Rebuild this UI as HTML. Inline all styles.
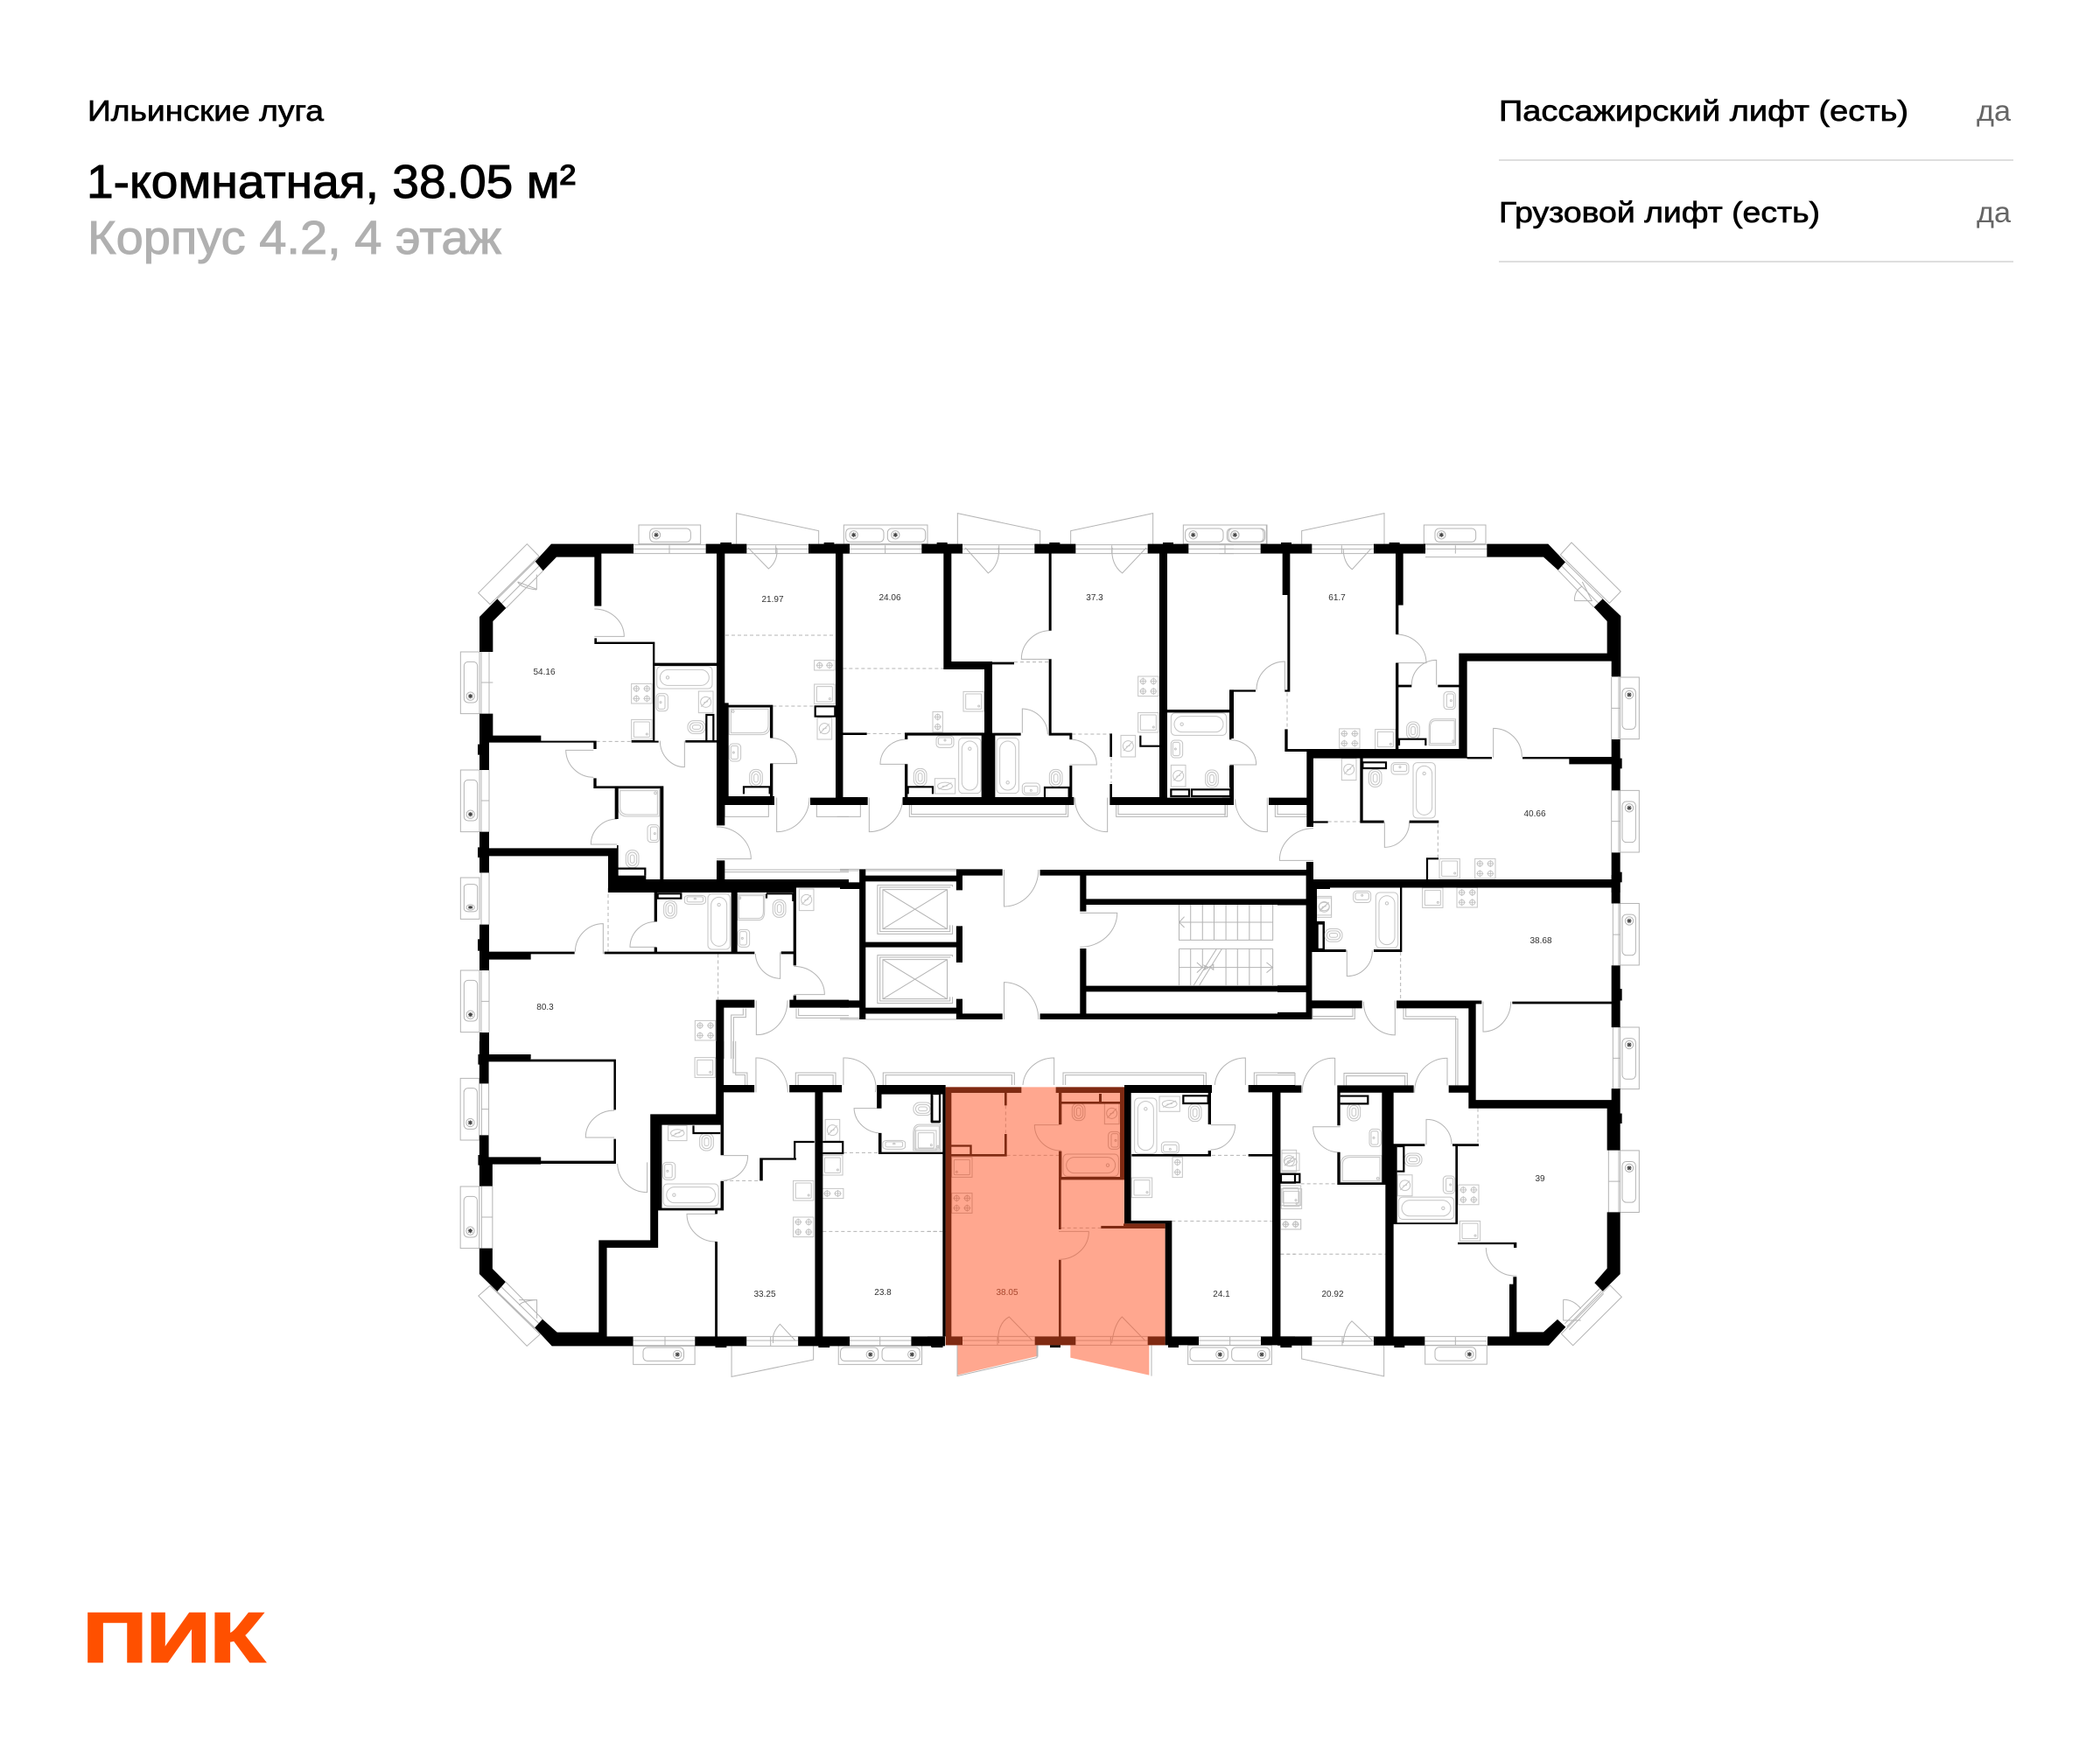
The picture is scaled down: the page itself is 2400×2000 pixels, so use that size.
<!DOCTYPE html>
<html lang="ru"><head><meta charset="utf-8"><title>План этажа</title>
<style>
html,body{margin:0;padding:0;background:#fff}
svg{display:block}
svg *{vector-effect:non-scaling-stroke}
.k{fill:#000;stroke:none}
.o{fill:none;stroke:#000;stroke-width:2.2}
.t{fill:none;stroke:#b4b4b4;stroke-width:1}
.d{fill:none;stroke:#b4b4b4;stroke-width:1;stroke-dasharray:4 3}
.i{fill:none;stroke:#c4c4c4;stroke-width:1}
.h{fill:none;stroke:#000;stroke-width:.8}
.f{font-family:"Liberation Sans",sans-serif}
.l{font-family:"Liberation Sans",sans-serif;font-size:10px;fill:#333;text-anchor:middle}
</style></head><body>
<svg xmlns="http://www.w3.org/2000/svg" width="2400" height="2000" viewBox="0 0 2400 2000">
<defs>
<g id="pl"><rect x="-106" y="-32" width="212" height="65"/><rect x="-68" y="-20" width="140" height="46" rx="14"/><circle cx="-46" cy="2" r="14"/><path d="M-54,2H-38M-46,-6V10M-52,-4L-40,8M-52,8L-40,-4" stroke="#444"/></g>
<g id="pl2"><rect x="-143" y="-32" width="287" height="65"/><rect x="-136" y="-20" width="130" height="46" rx="14"/><rect x="7" y="-20" width="130" height="46" rx="14"/><circle cx="-109" cy="2" r="14"/><circle cx="34" cy="2" r="14"/><path d="M-117,2H-101M-109,-6V10M-115,-4L-103,8M-115,8L-103,-4M26,2H42M34,-6V10M28,-4L40,8M28,8L40,-4" stroke="#444"/></g>
<g id="bt"><rect x="-95" y="-38" width="190" height="76" rx="14"/><rect x="-84" y="-27" width="168" height="54" rx="27"/><circle cx="-58" cy="0" r="5"/></g>
<g id="bc"><path d="M-70,-47H70V15Q70,47 40,47H-70Z"/><path d="M-64,-41H64V15Q64,41 36,41H-64Z"/><circle cx="-57" cy="-33" r="4"/></g>
<g id="sk"><rect x="-20" y="-30" width="40" height="60" rx="12"/><rect x="-14" y="-23" width="24" height="46" rx="6"/><circle cx="-5" cy="0" r="3"/></g>
<g id="wc"><rect x="-22" y="-30" width="44" height="60" rx="20"/><rect x="-15" y="-23" width="30" height="46" rx="15"/><rect x="-7" y="-14" width="14" height="28" rx="7"/></g>
<g id="vt"><rect x="-25" y="-37" width="50" height="74"/><circle cx="0" cy="0" r="18"/><path d="M-16,16L-4,4L4,-4L16,-16M-7,2L7,-2"/></g>
<g id="s4"><rect x="-35" y="-34" width="70" height="68"/><circle cx="-18" cy="-17" r="9"/><circle cx="18" cy="-17" r="9"/><circle cx="-18" cy="17" r="9"/><circle cx="18" cy="17" r="9"/><path d="M-30,-17H-6M6,-17H30M-30,17H-6M6,17H30M-18,-29V-5M18,-29V-5M-18,5V29M18,5V29"/></g>
<g id="s2"><rect x="-17" y="-35" width="34" height="70"/><circle cx="0" cy="-17" r="9"/><circle cx="0" cy="17" r="9"/><path d="M-12,-17H12M-12,17H12M0,-29V-5M0,5V29"/></g>
<g id="ks"><rect x="-35" y="-34" width="70" height="68"/><rect x="-27" y="-26" width="54" height="52" rx="3"/><circle cx="18" cy="16" r="3"/></g>
</defs>
<rect width="2400" height="2000" fill="#fff"/>

<!-- header -->
<text class="f" x="100" y="138" font-size="33" textLength="270" lengthAdjust="spacingAndGlyphs" fill="#000" stroke="#000" stroke-width=".7">Ильинские луга</text>
<text class="f" x="99" y="226" font-size="54" textLength="559" lengthAdjust="spacingAndGlyphs" fill="#000" stroke="#000" stroke-width="1">1-комнатная, 38.05 м²</text>
<text class="f" x="100" y="290" font-size="54" textLength="473" lengthAdjust="spacingAndGlyphs" fill="#b0b0b0" stroke="#b0b0b0" stroke-width="1">Корпус 4.2, 4 этаж</text>
<text class="f" x="1713" y="138" font-size="33" textLength="468" lengthAdjust="spacingAndGlyphs" fill="#000" stroke="#000" stroke-width=".7">Пассажирский лифт (есть)</text>
<text class="f" x="2259" y="138" font-size="33" textLength="39" lengthAdjust="spacingAndGlyphs" fill="#666">да</text>
<rect x="1713" y="182" width="588" height="2" fill="#dedede"/>
<text class="f" x="1713" y="254" font-size="33" textLength="367" lengthAdjust="spacingAndGlyphs" fill="#000" stroke="#000" stroke-width=".7">Грузовой лифт (есть)</text>
<text class="f" x="2259" y="254" font-size="33" textLength="39" lengthAdjust="spacingAndGlyphs" fill="#666">да</text>
<rect x="1713" y="298" width="588" height="2" fill="#dedede"/>
<text class="f" x="95" y="1899" font-size="80" font-weight="700" textLength="207" lengthAdjust="spacingAndGlyphs" fill="#ff5000" stroke="#ff5000" stroke-width="2.5">ПИК</text>

<!-- Z1 -->
<g transform="translate(520 570) scale(.33333)">
<g class="t">
<path d="M80,323L247,155L288,197L120,362ZM275,215L145,343M302,247L175,375M288,231L160,359"/>
<path d="M215,285L280,310V260M215,285Q225,305 280,312"/>
<path d="M612,158H860M612,172H860M612,188H860M735,160V188"/>
<use href="#pl" transform="translate(736 122)"/>
<path d="M965,155V50L1247,110V155"/>
<path d="M1000,158H1212M1000,172H1212M1000,188H1212M1100,160V188"/>
<path d="M1005,168L1075,240A75,75 0 0 0 1103,168"/>
<path d="M90,525V737M117,525V737M90,630H130"/><use href="#pl" transform="translate(51 631) rotate(-90)"/>
<path d="M90,930V1142M117,930V1142M90,1035H117"/><use href="#pl" transform="translate(51 1036) rotate(-90)"/>
<path d="M90,1282V1350M117,1282V1350"/>
<path d="M478,378A102,95 0 0 1 580,472H478"/>
<path d="M475,862H380A95,95 0 0 0 475,955"/>
<path d="M787,830V920A85,90 0 0 1 703,830"/>
<path d="M1082,820A90,88 0 0 1 1172,908H1082"/>
<path d="M1103,1025V1142A112,117 0 0 0 1215,1025"/>
<path d="M555,1098A90,87 0 0 0 466,1185H555"/>
<path d="M897,1125A118,110 0 0 1 1015,1235H897"/>
<path d="M925,1050V1090H1075V1050M1240,1050V1090H1350M925,1272H1350M925,1280H1350M525,1335V1350"/>
</g>
<g class="i">
<use href="#bt" transform="translate(787 613)"/><use href="#sk" transform="translate(710 698)"/><use href="#vt" transform="translate(860 697)"/><use href="#wc" transform="translate(828 783) rotate(90)"/>
<use href="#s4" transform="translate(640 668)"/><use href="#ks" transform="translate(640 791)"/>
<use href="#bc" transform="translate(1010 762)"/><use href="#sk" transform="translate(960 870)"/><use href="#wc" transform="translate(1032 958)"/>
<use href="#s2" transform="translate(1267 571) rotate(90)"/><use href="#ks" transform="translate(1267 670)"/><use href="#vt" transform="translate(1267 788)"/>
<use href="#bc" transform="translate(630 1042) scale(-1 1)"/><use href="#sk" transform="translate(680 1148) scale(-1 1)"/><use href="#wc" transform="translate(608 1235)"/>
</g>
<path class="d" d="M927,468H1305M1090,711H1232M485,832H605M1330,582H1350"/>
<path class="k" d="M330,155H612V188H502V200H348L302,247L275,215Z M145,343L175,375L130,420V525H84V405Z
M84,737H130V812H295V830H485V836H117V930H84V878H78V842H84Z
M478,190H502V368H478Z M478,478H486V491H685V830H698V836H605V828H678V498H478Z
M685,563H897V573H685Z M790,828H897V836H790Z
M860,155H1000V188H925V700H938V1020H1095V1050H925V1120H897V188H860Z M910,150H948V156H910Z
M1212,155H1350V188H1330V1025H1350V1050H1218V1025H1305V188H1212Z M1265,150H1300V156H1265Z
M930,707H1090V820H1080V715H930Z M1080,908H1090V1025H1080Z
M475,836H485V858H475Z M475,958H485V985H715V1310H703V993H560V1098H548V993H475Z
M117,1198H555V1188H548V1188H560V1292H655V1305H1350V1333H1170V1350H683V1333H525V1225H117Z
M84,1142H117V1198V1282H84V1230H78V1195H84Z M897,1240H925V1305H897Z"/>
<path class="o" d="M862,828V741H886V828M1235,712H1303V746H1235ZM990,1012V988H1079V1012M555,1292V1268H652V1292"/>
</g>

<!-- Z2 -->
<g transform="translate(960 570) scale(.33333)">
<g class="t">
<path d="M33,158H280M33,172H280M33,188H280M155,160V188"/><use href="#pl2" transform="translate(156 122)"/>
<path d="M403,155V50L686,110V155M420,158H667M420,172H667M420,188H667M545,160V188M430,168L508,255A75,85 0 0 0 543,168"/>
<path d="M791,155V110L1073,50V155M808,158H1055M808,172H1055M808,188H1055M932,160V188M1050,168L968,255A75,85 0 0 1 934,168"/>
<path d="M1195,158H1350M1195,172H1350M1195,188H1350M1320,160V188"/><use href="#pl2" transform="translate(1320 122)"/>
<path d="M725,452A100,98 0 0 0 622,550H725"/>
<path d="M222,825A90,85 0 0 0 138,910H232"/>
<path d="M625,803V720A90,88 0 0 1 712,808"/>
<path d="M787,825A93,87 0 0 1 880,912H787"/>
<path d="M100,1025V1142A117,117 0 0 0 215,1025"/>
<path d="M917,1025V1142A112,117 0 0 1 805,1025"/>
<path d="M238,1050V1090H782V1050M245,1050V1082H775V1050M947,1050V1090H1328V1050M954,1050V1082H1321V1050M-10,1090H70V1050"/>
</g>
<g class="i">
<use href="#bt" transform="translate(445 915) rotate(90)"/><use href="#bt" transform="translate(575 915) rotate(-90)"/>
<use href="#sk" transform="translate(360 833) rotate(90)"/><use href="#wc" transform="translate(275 955)"/><use href="#vt" transform="translate(360 985) scale(1.4 .7)"/>
<use href="#s2" transform="translate(335 765)"/><use href="#ks" transform="translate(458 695)"/>
<use href="#wc" transform="translate(740 958)"/><use href="#sk" transform="translate(655 995) rotate(-90)"/>
<use href="#s4" transform="translate(1057 643)"/><use href="#ks" transform="translate(1057 767)"/><use href="#vt" transform="translate(988 848)"/>
<use href="#bt" transform="translate(1230 773)"/><use href="#sk" transform="translate(1155 858)"/><use href="#vt" transform="translate(1160 950)"/><use href="#wc" transform="translate(1275 960)"/>
</g>
<path class="d" d="M10,582H355M597,560H716M92,805H220M796,807H925M930,885V975"/>
<path class="k" d="M-15,155H33V188H10V802H92V810H10V1023H95V1050H-15Z
M280,155H420V188H280Z M355,188H382V585H355Z M355,558H522V585H355Z M495,558H522V1025H495Z M522,560H597V568H522Z M522,803H620V812H522Z M222,802H495V812H222Z M222,802H232V825H222Z M485,812H532V1025H485Z M222,910H232V1025H222Z M215,1023H802V1050H215Z M787,915H796V1023H787Z
M332,150H368V156H332Z M667,155H808V188H725V452H716V188H667Z M718,150H754V156H718Z
M716,550H725V803H796V825H787V812H716Z
M1055,155H1195V188H1122V1025H1350V1050H925V978H933V1023H1095V188H1055Z M1107,150H1143V156H1107Z
M925,805H933V885H925Z M1122,723H1350V733H1122Z M1337,655H1350V822H1337Z M1337,912H1350V1025H1337Z"/>
<path class="o" d="M1030,812V848H1095M233,1012V988H318V1012M702,1023V990H785V1023M1135,997H1197V1020H1135ZM1206,997H1338V1020H1206Z"/>
</g>

<!-- Z3 -->
<g transform="translate(1400 570) scale(.33333)">
<g class="t">
<path d="M-20,158H122M-20,172H122M-20,188H122"/><path d="M-20,90H142V155"/><rect x="12" y="102" width="120" height="46" rx="14"/><circle cx="34" cy="124" r="14"/>
<path d="M263,155V110L546,50V155M298,158H510M298,172H510M298,188H510M400,160V188M500,172L436,242A55,75 0 0 1 406,172"/>
<path d="M687,158H898M687,172H898M687,200H898M790,160V188"/><use href="#pl" transform="translate(788 122)"/>
<path d="M1150,192L1188,150L1357,318L1318,358ZM1167,217L1295,343M1142,245L1265,372M1155,231L1280,358"/><path d="M1198,350H1258L1225,285M1198,350Q1198,315 1225,300"/>
<path d="M1325,612V825M1350,612V825M1325,718H1355"/><use href="#pl" transform="translate(1388 718) rotate(90)"/>
<path d="M1325,1000V1213M1350,1000V1213M1325,1106H1355"/><use href="#pl" transform="translate(1388 1106) rotate(90)"/>
<path d="M587,465A103,98 0 0 1 690,563H587"/>
<path d="M640,638A85,85 0 0 1 725,553V638"/>
<path d="M920,887V787A98,98 0 0 1 1018,885"/>
<path d="M547,1108V1195A85,87 0 0 0 632,1108"/>
<path d="M303,1130A118,110 0 0 0 187,1240H303"/>
<path d="M205,655V558A97,97 0 0 0 108,655"/>
<path d="M15,827A90,85 0 0 1 107,912H15"/>
<path d="M35,1030A108,112 0 0 0 145,1142V1025"/>
<path d="M172,1050V1090H280M180,1050V1082H280M0,1050V1090"/>
</g>
<g class="i">
<use href="#wc" transform="translate(645 795)"/><use href="#sk" transform="translate(770 692) scale(-1 1)"/><use href="#bc" transform="translate(745 800) rotate(180) scale(.65 .95)"/>
<use href="#s4" transform="translate(427 822) scale(1 .98)"/><use href="#ks" transform="translate(550 825)"/>
<use href="#wc" transform="translate(515 958)"/><use href="#sk" transform="translate(600 925) rotate(90)"/><use href="#bt" transform="translate(683 1000) rotate(90)"/><use href="#vt" transform="translate(425 928)"/>
<use href="#ks" transform="translate(770 1268)"/><use href="#s4" transform="translate(892 1268)"/>
</g>
<path class="d" d="M213,665V790M353,1107H463M730,1115V1230"/>
<path class="k" d="M122,155H298V188H223V655H214V330H197V188H122Z M192,150H228V156H192Z
M205,655H223V662H205Z M205,790H215V858H802V530H1325V530H1310V420L1265,372L1295,343L1357,402V610H1325V557H830V885H915V892H830V890H303V1125H280V1050H150V1025H280V867H205Z
M510,155H687V188H611V365H595V465H585V188H510Z M563,150H599V156H563Z M585,563H595V858H585Z
M898,155H1108L1167,217L1142,245L1092,200H898Z
M595,638H640V646H595Z M730,638H802V646H730Z
M1020,885H1180V885H1325V825H1355V1000H1325V910H1180V892H1020Z M1355,890H1361V925H1355Z
M1325,1213H1355V1350H1325V1330H303V1350H280V1245H303V1305H1325Z M1355,1280H1361V1315H1355Z
M463,890H473V1103H545V1112H463Z M632,1103H733V890H725V1103Z M725,890H733V1112H632V1103H725Z M303,1105H353V1112H303Z
M15,655H105V662H22V825H15Z M15,915H22V990H15Z M-10,1025H30V1050H-10Z"/>
<path class="o" d="M597,846V824H688V846M472,904H552V924H472ZM693,1305V1234H732"/>
</g>

<!-- Z4 -->
<g transform="translate(520 1010) scale(.33333)">
<g class="t">
<path d="M90,-10V140M117,-10V140M90,297V510M117,297V510M90,403H117"/>
<use href="#pl" transform="translate(51 50) rotate(-90) scale(.67 1)"/><use href="#pl" transform="translate(51 403) rotate(-90)"/>
<path d="M412,233A97,97 0 0 1 508,137V240"/>
<path d="M685,130A88,88 0 0 0 600,217H690"/>
<path d="M1030,240A88,88 0 0 0 1115,325V235"/>
<path d="M1162,283A105,97 0 0 1 1267,380H1162"/>
<path d="M1033,400V518A105,118 0 0 0 1140,400"/>
<path d="M997,428V458H955V600M988,428V450H947V600M1170,428V460H1350M1178,428V452H1350"/>
</g>
<g class="i">
<use href="#wc" transform="translate(738 88)"/><use href="#sk" transform="translate(823 55) rotate(90) scale(.75 1.2)"/><use href="#bt" transform="translate(905 130) rotate(90)"/>
<use href="#bc" transform="translate(1015 80) scale(.66 .95)"/><use href="#wc" transform="translate(1112 85)"/><use href="#sk" transform="translate(990 187)"/><use href="#vt" transform="translate(1205 55)"/>
<use href="#s4" transform="translate(858 503)"/>
</g>
<path class="d" d="M525,15V232M902,241V398"/>
<path class="k" d="M525,0H1350V13H1170V280H1160V30H968V233H1027V241H512V233H947V30H693V130H683V30H525Z
M683,218H693V235H683Z M1118,232H1160V241H1118Z M1160,383H1170V400H1160Z
M84,140H117V233H260V241H410V233H260V241V260H117V297H84V230H78V190H84Z
M895,398H1027V425H922V600H895Z M1147,398H1350V425H1147Z M84,510H117V585H260V600H84Z"/>
<path class="o" d="M695,34H775V50H695ZM1068,34H1159V60M1068,34V50"/>
</g>

<!-- Z5 core -->
<g transform="translate(960 980) scale(.35714 .33333)">
<g class="t">
<path d="M0,40H62M0,45H62M82,40H372M82,45H372M0,550H62M0,555H62M82,535H372M82,555H372"/>
<path d="M525,42V168A110,126 0 0 0 635,42"/>
<path d="M525,555V428A110,126 0 0 1 635,555"/>
<path d="M768,190H887A118,118 0 0 1 768,307"/>
<path d="M360,100V95H120V262H360V232M352,100V102H128V254H352V232M137,110H343V245H137ZM137,110L343,245M343,110L137,245"/>
<path d="M360,340V335H120V500H360V478M352,340V342H128V492H352V478M137,350H343V485H137ZM137,350L343,485M343,350L137,485"/>
<path d="M1085,162V283H1385V162M1122,162V283M1160,162V283M1197,162V283M1235,162V283M1272,162V283M1310,162V283M1347,162V283M1085,222H1385"/>
<path d="M1085,313H1385M1085,313V438M1122,313V438M1160,313V380M1235,313V438M1272,313V438M1310,313V438M1347,313V438M1385,313V438M1085,377H1385"/>
<path d="M1205,313L1132,438M1222,313L1150,438"/>
<path d="M1102,203L1085,222L1102,240M1142,360L1160,377L1142,395M1365,360L1385,377L1365,395M1165,370L1180,377L1165,385L1170,377ZM1195,367L1182,375L1195,385Z"/>
</g>
<use href="#vt" class="i" transform="translate(1549 168) scale(.93 .8)"/>
<path class="k" d="M62,40H82V62H372V40H520V62H392V112H372V82H82V290H372V235H392V360H372V308H82V515H372V485H392V535H520V555H372V535H82V555H62V515H0V490H62V108H0V85H62Z
M640,42H1510V62H640Z M768,62H788V185H768Z M788,142H1492V162H788Z M1492,15H1510V555H1492Z M1510,75H1568V108H1510Z M1510,490H1568V515H1510Z M768,312H788V555H768Z M788,440H1492V460H788Z M640,535H1510V555H640Z"/>
<path class="o" d="M1526,222H1548V315H1526Z"/>
</g>

<!-- Z6 -->
<g transform="translate(520 1190) scale(.35714 .33333)">
<g class="t">
<path d="M85,145V322M108,145V322M85,233H108"/>
<use href="#pl" transform="translate(47 233) rotate(-90) scale(1 .93)"/>
<path d="M85,497V710M120,497V710M85,603H120"/>
<use href="#pl" transform="translate(47 604) rotate(-90) scale(1 .93)"/>
<path d="M75,873L112,838L272,1005L230,1045ZM135,858L255,982M162,825L280,953M148,842L268,967"/>
<path d="M205,887H262V950M205,905Q215,890 262,887"/>
<path d="M510,237A92,92 0 0 0 418,330H510"/>
<path d="M520,420A95,100 0 0 0 615,518V415"/>
<path d="M850,392H937A85,85 0 0 1 850,478"/>
<path d="M835,592H742A92,95 0 0 0 835,687"/>
<path d="M1365,230H1277A88,88 0 0 0 1365,315"/>
<path d="M963,175V57A100,118 0 0 1 1065,175"/>
<path d="M1243,150V57A100,100 0 0 1 1345,175"/>
<path d="M890,0V108H935V150M898,0V115H928V150M1090,150V108H1218V150M1098,150V116H1210V150M1370,150V108H1790V150M1378,150V116H1782V150"/>
<path d="M570,1012H768M570,1026H768M570,1045H768M672,1014V1045"/>
<use href="#pl" transform="translate(669 1076) rotate(180) scale(.93 1)"/>
<path d="M933,1012H1098M933,1026H1098M933,1045H1098M1010,1014V1045M885,1045V1150L1147,1092V1045"/>
<path d="M1018,1035V1012Q1022,990 1040,970L1088,1025"/>
<path d="M1263,1012H1460M1263,1026H1460M1263,1045H1460M1360,1014V1045"/>
<use href="#pl2" transform="translate(1361 1076) rotate(180) scale(.93 1)"/>
</g>
<g class="i">
<use href="#vt" transform="translate(712 315) scale(1.2 .7)"/><use href="#wc" transform="translate(805 345)"/><use href="#sk" transform="translate(685 445)"/><use href="#bt" transform="translate(755 527) scale(.93 1)"/>
<use href="#ks" transform="translate(1115 512) scale(.93 1)"/><use href="#s4" transform="translate(1115 637) scale(.93 1)"/>
<use href="#ks" transform="translate(1208 425) scale(.93 1)"/><use href="#s2" transform="translate(1208 522) rotate(90)"/><use href="#vt" transform="translate(1208 305) scale(.93 1)"/>
<use href="#ks" transform="translate(800 90) scale(.93 1)"/>
<use href="#wc" transform="translate(1497 232) rotate(90)"/><use href="#bc" transform="translate(1510 330) rotate(180) scale(.62 .95)"/><use href="#sk" transform="translate(1405 355) rotate(90) scale(.75 1.2)"/>
</g>
<path class="d" d="M860,478H975M1177,652H1790M1243,382H1355"/>
<path class="k" d="M78,0H108V45H242V62H515V235H508V70H242V70H108V145H78V80H74V45H78Z
M108,397H275V422H108Z M275,410H515V420H275Z M508,335H515V420H508Z M78,322H108V425H78Z M74,390H80V425H74Z M78,422H120V497H78Z
M78,710H120V780L162,825L135,858L78,798Z
M280,953L327,998H460V682H625V250H835V0H860V150H958V175H860V272V390H850V287H662V575H650V708H486V1012H570V1045H310L255,982Z
M850,480H860V580H650V572H850Z M832,580H840V592H832Z M832,687H840V1012H933V1045H768V1012H832Z M833,1045H869V1050H833Z
M1070,150H1238V175H1177V1012H1263V1045H1098V1012H1152V175H1070Z M1163,1045H1199V1050H1163Z
M975,400H1092V407H985V478H975Z
M1350,150H1568V182H1365V230H1350Z M1355,315H1365V380H1568V387H1355Z M1460,1012H1568V1045H1460Z M1525,1045H1561V1050H1525Z"/>
<path class="o" d="M763,289V315H849M1087,400V345H1150M1177,345H1241V384H1177M1527,184V277H1552"/>
</g>

<!-- Z8 -->
<g transform="translate(1460 1000) scale(.33333 .3827)">
<g class="t">
<path d="M1150,85V270M1170,85V270M1150,178H1175"/><use href="#pl" transform="translate(1208 177) rotate(90) scale(.87 1)"/>
<path d="M1150,455V638M1170,455V638M1150,547H1175"/><use href="#pl" transform="translate(1208 547) rotate(90) scale(.87 1)"/>
<path d="M1135,822V1007M1170,822V1007M1135,915H1175"/><use href="#pl" transform="translate(1208 915) rotate(90) scale(.87 1)"/>
<path d="M973,1370L1140,1225L1180,1260L1013,1405ZM985,1340L1105,1235M1000,1358L1118,1250M992,1349L1112,1242"/>
<path d="M980,1268V1330H1040M980,1268Q1015,1268 1040,1295"/>
<path d="M238,225V302A85,75 0 0 0 325,225"/>
<path d="M705,378V468A95,90 0 0 0 800,378"/>
<path d="M295,378A110,100 0 0 0 403,478V375"/>
<path d="M120,398V430H265V398M120,398V422H258V398M432,398V430H618V628M440,398V423H611V628"/>
<path d="M85,650A105,100 0 0 1 197,547V628"/>
<path d="M470,650A110,100 0 0 1 582,547V628"/>
<path d="M228,628V592H445V628M236,628V600H437V628M0,592H60V628"/>
<path d="M215,752H122A90,75 0 0 0 215,828"/>
<path d="M510,805V730A85,75 0 0 1 597,805"/>
<path d="M715,1113A100,85 0 0 0 820,1197"/>
<path d="M118,1378H330M118,1392H330M118,1405H330M222,1380V1405"/>
<path d="M83,1405V1445L365,1497V1405"/>
<path d="M225,1398Q230,1352 255,1332L325,1390"/>
<path d="M505,1378H718M505,1392H718M505,1405H718M610,1380V1405"/>
<use href="#pl" transform="translate(612 1433) rotate(180) scale(1 .87)"/>
</g>
<g class="i">
<use href="#s2" transform="translate(45 1043) rotate(90) scale(.87 1)"/><use href="#ks" transform="translate(45 957) scale(1 .87)"/><use href="#vt" transform="translate(45 857) scale(1.2 .7)"/>
<use href="#wc" transform="translate(262 708) scale(1 .87)"/><use href="#sk" transform="translate(335 785) scale(1 .87)"/><use href="#bc" transform="translate(287 878) rotate(180) scale(1 .85)"/>
<use href="#wc" transform="translate(465 850) scale(1 .87) rotate(90)"/><use href="#vt" transform="translate(437 927) scale(1 .85)"/><use href="#sk" transform="translate(588 925) scale(-1 .87)"/><use href="#bt" transform="translate(510 995) scale(1 .87) rotate(180)"/>
<use href="#s4" transform="translate(655 955) scale(1 .87)"/><use href="#ks" transform="translate(660 1063) scale(1 .87)"/>
<use href="#vt" transform="translate(160 95) scale(1 .85)"/><use href="#wc" transform="translate(192 180) scale(1 .87) rotate(90)"/><use href="#sk" transform="translate(290 65) scale(1 .87) rotate(90)"/><use href="#bt" transform="translate(375 135) scale(1 .87) rotate(90)"/>
<use href="#ks" transform="translate(532 68) scale(1 .87)"/><use href="#s4" transform="translate(650 67) scale(1 .87)"/>
</g>
<path class="d" d="M422,230V375M687,697V803M80,922H205M10,1132H370"/>
<path class="k" d="M98,0H118V430H0V410H98V350H0V330H98V90H0V72H98Z
M118,15H1175V38H118Z M118,38H135V230H118Z M118,222H235V230H118Z M330,222H427V230H330Z M420,38H427V230H420Z M118,375H290V398H118Z M1145,0H1175V85H1145Z
M408,375H680V672H1145V638H1175V712H1181V742H1175V822H1130V697H655V398H408Z
M680,375H700V385H680Z M805,378H1145V270H1175V340H1181V375H1175V455H1145V385H805Z
M1130,1007H1175V1192L1115,1243L1087,1218L1130,1175Z
M0,628H82V650H10V1378H118V1405H0Z M10,1405H46V1411H10Z
M205,628H467V650H398V803H505V810H410V1038H610V810H600V803H690V810H618V1097H820V1113H810V1103H618V1043H398V1378H505V1405H330V1378H370V925H205V828H215V918H358V650H215V748H205Z
M587,628H655V650H587Z M400,1405H436V1411H400Z
M795,1222H808V1200H820V1365H912L960,1327L988,1350L930,1405H720V1378H795Z"/>
<path class="o" d="M137,145H158V222H137ZM215,660H310V683H215M410,810H433V885H410M10,893H76V918H10"/>
</g>

<!-- Z7 highlighted flat -->
<g transform="translate(1060 1220) scale(.33333)">
<path d="M62,67H675V545H815V952H62Z M102,952H375V990L102,1055Z M490,952H760V1055L490,995Z" fill="#ffa78f"/>
<g class="t">
<path d="M434,60V-33A107,100 0 0 0 327,60"/>
<path d="M1090,60V-33A105,100 0 0 0 985,60"/>
<path d="M465,60V18H955V60M473,60V26H947V60M1120,60V18H1260M1128,60V26H1260"/>
<path d="M970,197H1055A85,85 0 0 1 970,282"/>
<path d="M930,922H1143M930,936H1143M930,952H1143M1037,924V952"/>
<use href="#pl2" transform="translate(1037 986) rotate(180)"/>
<path d="M1210,365H1260M1210,395H1260"/>
<path d="M102,952V1058L375,995V952M378,952V992M768,952V1058"/>
</g>
<g class="i">
<use href="#bt" transform="translate(748 200) rotate(90)"/><use href="#vt" transform="translate(830 125) scale(1.4 .7)"/><use href="#wc" transform="translate(917 155)"/><use href="#sk" transform="translate(832 275) rotate(-90)"/>
<use href="#s2" transform="translate(857 342)"/><use href="#ks" transform="translate(735 412)"/>
<use href="#ks" transform="translate(-5 250)"/><use href="#vt" transform="translate(1240 320)"/><use href="#ks" transform="translate(1248 450)"/><use href="#s2" transform="translate(1245 538) rotate(90)"/>
</g>
<g fill="none" stroke="#d9836b" stroke-width="1">
<use href="#bt" transform="translate(560 335) rotate(180)"/><use href="#wc" transform="translate(518 152)"/><use href="#vt" transform="translate(632 157)"/><use href="#sk" transform="translate(640 250) scale(-1 1)"/>
<use href="#ks" transform="translate(118 342) scale(-1 1)"/><use href="#s4" transform="translate(118 465)"/>
<path d="M120,922H368M120,936H368M120,952H368M240,924V952M508,922H755M508,936H755M508,952H755M628,924V952"/>
<path d="M245,945A60,75 0 0 1 280,855L358,935M632,945Q640,880 667,855L745,935"/>
<path d="M458,197H367A90,88 0 0 0 458,285M450,562H553A102,95 0 0 1 450,658"/>
</g>
<path class="d" d="M268,130V225M272,301H450M458,550H595" style="stroke:#d9836b"/>
<path class="d" d="M838,527H1182M975,301H1100M0,562H50M1210,640H1260"/>
<path fill="#7f2a12" d="M62,67H322V87H272V130H264V87H82V922H120V952H62Z
M264,228H272V305H82V297H264Z M145,265H152V297H145Z M82,265H152V272H82Z
M440,67H675V87H440Z M660,87H675V385H660Z M450,117H672V125H450Z M450,87H460V195H450Z M450,287H460V385H450Z M450,375H672V385H450Z M450,385H458V555H450Z M595,543H675V552H595Z M672,535H815V552H672Z M588,90H597V118H588Z
M450,660H458V925H450Z
M368,922H508V952H368Z M755,922H815V952H755Z"/>
<path class="k" d="M0,60H62V87H62V922H52V87H0Z M0,922H52V952H0Z
M675,60H975V87H972V195H962V87H698V525H838V922H930V952H815V535H675Z
M825,952H861V960H825Z M420,952H456V960H420Z
M962,285H972V305H700V297H962Z M1100,60H1260V85H1100Z M1100,297H1182V305H1100Z
M1182,60H1210V922H1260V952H1143V922H1182Z M1213,952H1249V960H1213Z M12,952H48V958H12Z"/>
<path class="o" d="M877,97H962V123H877ZM14,90H42V185H14ZM1212,365H1260V395H1212Z"/>
</g>

<!-- labels -->
<text class="l" x="622" y="771">54.16</text>
<text class="l" x="883" y="688">21.97</text>
<text class="l" x="1017" y="686">24.06</text>
<text class="l" x="1251" y="686">37.3</text>
<text class="l" x="1528" y="686">61.7</text>
<text class="l" x="1754" y="933">40.66</text>
<text class="l" x="623" y="1154">80.3</text>
<text class="l" x="1761" y="1078">38.68</text>
<text class="l" x="1760" y="1350">39</text>
<text class="l" x="874" y="1482">33.25</text>
<text class="l" x="1009" y="1480">23.8</text>
<text class="l" x="1151" y="1480" style="fill:#a8482f">38.05</text>
<text class="l" x="1396" y="1482">24.1</text>
<text class="l" x="1523" y="1482">20.92</text>
</svg>
</body></html>
